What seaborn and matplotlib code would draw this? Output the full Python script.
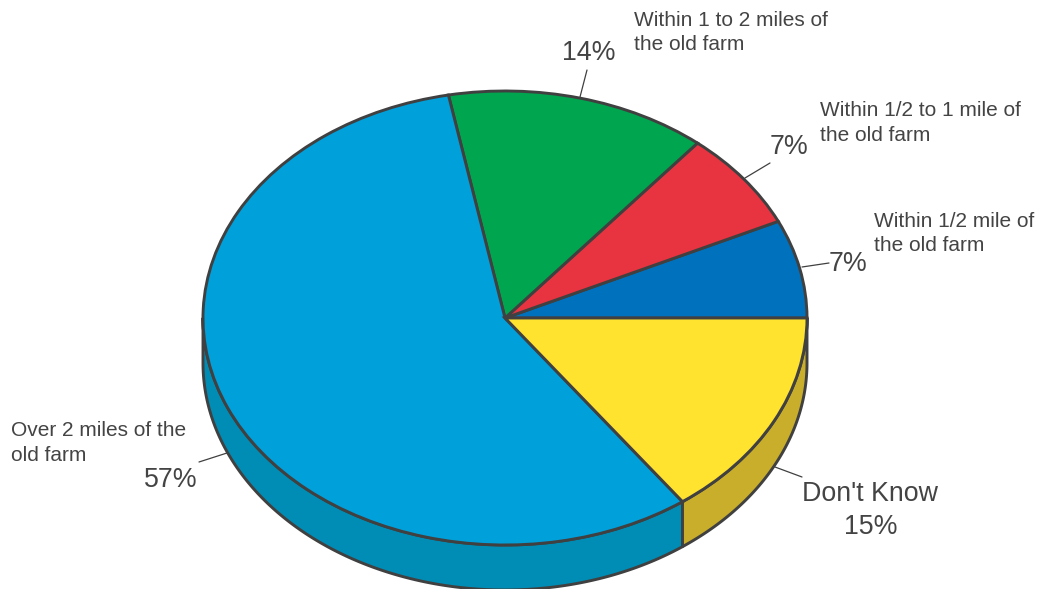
import numpy as np
import matplotlib
matplotlib.use("Agg")
import matplotlib.pyplot as plt
import seaborn as sns

categories = ["Within 1/2 mile of\nthe old farm", "Within 1/2 to 1 mile of\nthe old farm",
              "Within 1 to 2 miles of\nthe old farm", "Over 2 miles of the\nold farm", "Don't Know"]
values = [7, 7, 14, 57, 15]
top_colors = ["#0071BC", "#E83340", "#00A64F", "#00A0DA", "#FFE32E"]
side_colors = ["#005A96", "#B92833", "#00843F", "#008DB5", "#C9AE2B"]

W, H = 1041, 589
sns.set_theme(style="white")
plt.rcParams["font.family"] = ["Liberation Sans", "DejaVu Sans"]
EDGE = "#404040"
LW = 2.1
fig = plt.figure(figsize=(W / 100, H / 100), dpi=100)
cx, cy, rx, ry, depth = 505, 318, 302, 227, 45
ax = fig.add_axes([0, 0, 1, 1])
wedges, _ = ax.pie(values, colors=sns.color_palette(top_colors), startangle=0, counterclock=True,
                   wedgeprops=dict(edgecolor=EDGE, linewidth=LW), radius=1.0)
ax.set_aspect("auto")
ax.set_xlim(-cx / rx, (W - cx) / rx)
ax.set_ylim(-(H - cy) / ry, cy / ry)
d = depth / ry

# side wall from the same values
edges = np.cumsum([0] + values) / sum(values) * 360
for a0, a1, c in zip(edges[:-1], edges[1:], side_colors):
    lo, hi = max(a0, 180), min(a1, 360)
    if hi <= lo:
        continue
    t = np.radians(np.linspace(lo, hi, 200))
    x, y = np.cos(t), np.sin(t)
    ax.fill(np.r_[x, x[::-1]], np.r_[y, y[::-1] - d], facecolor=c, edgecolor=EDGE, linewidth=LW,
            joinstyle="round", zorder=0.5, clip_on=False)


def px(xp, yp):
    return (xp - cx) / rx, (cy - yp) / ry


leaders = [((829, 263), (802, 267)), ((770, 163), (745, 178)), ((587, 70), (580, 97)),
           ((199, 462), (227, 453)), ((802, 477), (775, 467))]
for (p0, p1) in leaders:
    a, b = px(*p0), px(*p1)
    ax.plot([a[0], b[0]], [a[1], b[1]], color=EDGE, lw=0.9, zorder=3, clip_on=False)

TXT = "#444444"
small = 15.05
big = 19.3


def label(xp, yp, s, size, ha="left", va="center", ls=1.37):
    x, y = px(xp, yp)
    ax.text(x, y, s, fontsize=size, ha=ha, va=va, color=TXT, linespacing=ls)


label(874, 233.5, categories[0], small)
label(820, 123, categories[1], small)
label(634, 32.5, categories[2], small)
label(11, 443, categories[3], small)
label(870, 494, categories[4], big, ha="center")
label(848, 264, f"{values[0]}%", big, ha="center")
label(789, 147, f"{values[1]}%", big, ha="center")
label(589, 53, f"{values[2]}%", big, ha="center")
label(171, 480, f"{values[3]}%", big, ha="center")
label(871, 527, f"{values[4]}%", big, ha="center")

fig.savefig("out.png", dpi=100, facecolor="white")
